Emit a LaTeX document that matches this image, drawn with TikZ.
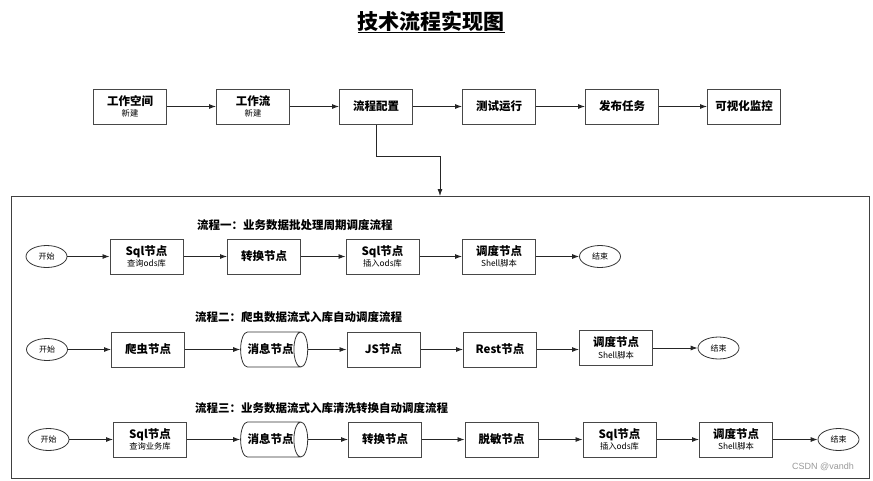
\documentclass[tikz,border=0pt]{standalone}
\usepackage{fontspec}
\setmainfont{Noto Sans CJK SC}
\newfontfamily\wmfont{Liberation Sans}
\usetikzlibrary{shapes.geometric,arrows.meta}
\tikzset{
  box/.style={draw=black!72, line width=1pt, fill=white, minimum width=73, minimum height=35,
    inner sep=1pt, align=center, font=\bfseries\fontsize{11.5}{12.5}\selectfont},
  term/.style={ellipse, draw=black!80, line width=0.8pt, minimum width=41, minimum height=22,
    inner sep=0pt, font=\fontsize{8}{9}\selectfont},
  cyl/.style={cylinder, draw=black!80, line width=0.8pt, minimum width=35, minimum height=65,
    aspect=1.25, inner sep=0pt, font=\bfseries\fontsize{11.5}{12.5}\selectfont},
  arr/.style={-{Latex[length=7pt,width=5pt]}, line width=0.8pt, draw=black!85},
  rowtitle/.style={anchor=west, inner sep=0pt, font=\bfseries\fontsize{11.5}{12.5}\selectfont},
  frame/.style={draw=black!75, line width=1pt}
}
\newcommand{\subt}[1]{{\mdseries\fontsize{8.3}{9}\selectfont #1}}
\begin{document}
\begin{tikzpicture}[x=1pt,y=-1pt]
\useasboundingbox (0,0) rectangle (873,480);
% title
\node[font=\bfseries\fontsize{21}{23}\selectfont, inner sep=0pt] (title) at (431,22) {\underline{技术流程实现图}};
% top row
\node[box] (p1) at (130,106.5) {工作空间\\[-1pt]\subt{新建}};
\node[box] (p2) at (253,106.5) {工作流\\[-1pt]\subt{新建}};
\node[box] (p3) at (376,106.5) {流程配置};
\node[box] (p4) at (499,106.5) {测试运行};
\node[box] (p5) at (622,106.5) {发布任务};
\node[box] (p6) at (744,106.5) {可视化监控};
\foreach \a/\b in {p1/p2,p2/p3,p3/p4,p4/p5,p5/p6} \draw[arr] (\a) -- (\b);
% frame
\draw[frame] (11,196) rectangle (869,478);
\coordinate (bend) at (440,156);
\coordinate (ftop) at (440,196);
\draw[arr] (p3.south) |- (bend) -- (ftop);
% row 1
\node[rowtitle] (t1) at (197,225) {流程一：业务数据批处理周期调度流程};
\node[term] (s1) at (46.5,256.5) {开始};
\node[box] (a1) at (146.5,256.5) {Sql节点\\[-1pt]\subt{查询ods库}};
\node[box] (a2) at (264,256.5) {转换节点};
\node[box] (a3) at (382.5,256.5) {Sql节点\\[-1pt]\subt{插入ods库}};
\node[box] (a4) at (499,256.5) {调度节点\\[-1pt]\subt{Shell脚本}};
\node[term] (e1) at (600,256.5) {结束};
\foreach \a/\b in {s1/a1,a1/a2,a2/a3,a3/a4,a4/e1} \draw[arr] (\a) -- (\b);
% row 2
\node[rowtitle] (t2) at (195,317) {流程二：爬虫数据流式入库自动调度流程};
\node[term] (s2) at (47,349.5) {开始};
\node[box] (b1) at (148,349.5) {爬虫节点};
\node[cyl] (b2) at (270.5,349.5) {消息节点};
\node[box] (b3) at (383.5,349.5) {JS节点};
\node[box] (b4) at (500,349.5) {Rest节点};
\node[box] (b5) at (616,348) {调度节点\\[-1pt]\subt{Shell脚本}};
\node[term] (e2) at (718.5,348) {结束};
\foreach \a/\b in {s2/b1,b1/b2,b2/b3,b3/b4} \draw[arr] (\a) -- (\b);
\draw[arr] (b4.east) -- (b5.west |- b4.east);
\draw[arr] (b5) -- (e2);
% row 3
\node[rowtitle] (t3) at (195,408) {流程三：业务数据流式入库清洗转换自动调度流程};
\node[term] (s3) at (48.5,439.5) {开始};
\node[box] (c1) at (150,439.5) {Sql节点\\[-1pt]\subt{查询业务库}};
\node[cyl] (c2) at (270.5,439.5) {消息节点};
\node[box] (c3) at (385,439.5) {转换节点};
\node[box] (c4) at (501.5,439.5) {脱敏节点};
\node[box] (c5) at (619.5,439.5) {Sql节点\\[-1pt]\subt{插入ods库}};
\node[box] (c6) at (736,439.5) {调度节点\\[-1pt]\subt{Shell脚本}};
\node[term] (e3) at (838.5,439.5) {结束};
\foreach \a/\b in {s3/c1,c1/c2,c2/c3,c3/c4,c4/c5,c5/c6,c6/e3} \draw[arr] (\a) -- (\b);
% watermark
\node[text=black!40, font=\wmfont\fontsize{9}{10}\selectfont, inner sep=0pt] (wm) at (823,467) {CSDN @vandh};
\end{tikzpicture}
\end{document}
